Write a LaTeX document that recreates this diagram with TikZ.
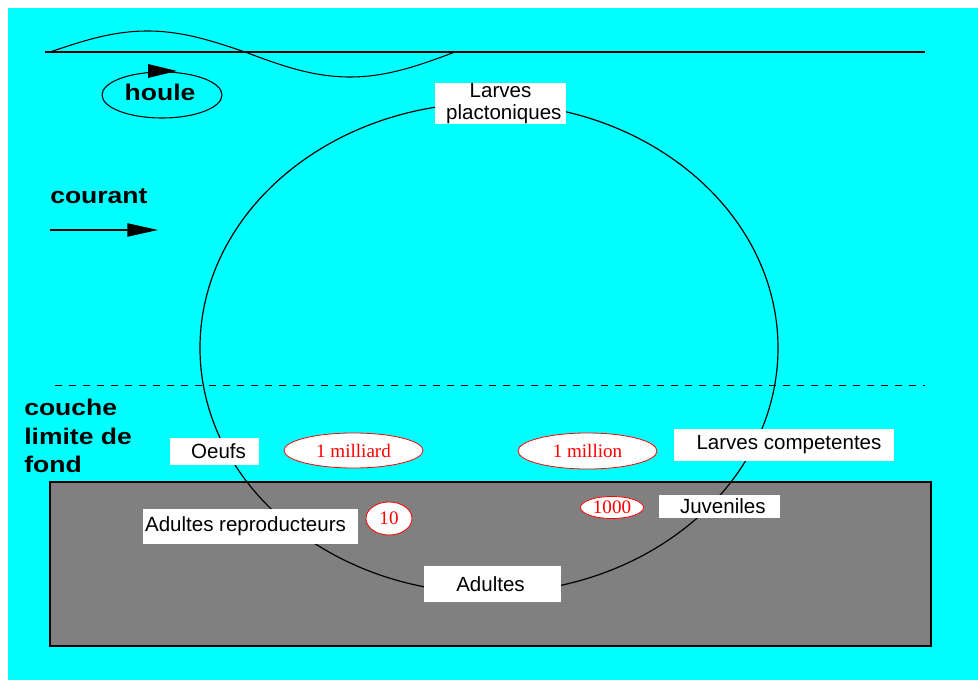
\documentclass[tikz,border=0pt]{standalone}
\usepackage{fontspec}
\setmainfont{Liberation Sans}
\newfontfamily\timesf{Liberation Serif}
\usetikzlibrary{shapes.geometric,arrows.meta}
\newcommand\wideb[1]{\scalebox{1.17}[1]{#1}}
\definecolor{sea}{RGB}{0,255,255}
\definecolor{ground}{RGB}{128,128,128}
\begin{document}
\begin{tikzpicture}[x=0.75pt,y=-0.75pt,
  lbl/.style={fill=white, inner sep=0pt, font=\fontsize{15.4}{16.7}\selectfont, align=center},
  num/.style={ellipse, draw=red, fill=white, text=red, inner sep=0pt, line width=0.6pt, font=\timesf\fontsize{14.3}{16}\selectfont},
  boldtxt/.style={font=\bfseries\fontsize{17}{19}\selectfont, inner sep=0pt},
  thin/.style={line width=0.8pt}]
\useasboundingbox (0,0) rectangle (978,680);
\fill[white] (0,0) rectangle (978,680);
\fill[sea] (8,8) rectangle (978,680);
% sea floor
\draw[fill=ground, line width=0.8pt] (50,482) rectangle (931,646);
% surface and wave
\draw[thin] (45,52) -- (925,52);
\draw[thin] plot[domain=0:180, samples=40] ({50+\x/180*195},{52-21*sin(\x)})
  -- plot[domain=180:360, samples=40] ({245+(\x-180)/180*210},{52-25*sin(\x)});
% boundary layer
\draw[line width=0.7pt, dash pattern=on 5.25pt off 5.25pt] (55,385) -- (925,385);
% life cycle
\draw[line width=0.9pt] (489,348) ellipse [x radius=289, y radius=245];
% houle
\draw[thin] (162,95) ellipse [x radius=60, y radius=23];
\fill (148,64) -- (177,71) -- (148,78) -- cycle;
\node[boldtxt, anchor=base] (houle) at (160,101) {\wideb{houle}};
% courant
\node[boldtxt, anchor=base west] (courant) at (50,204) {\wideb{courant}};
\coordinate (c0) at (50,230);
\coordinate (c1) at (158,230);
\draw[thin, -{Triangle[length=23pt,width=10pt]}] (c0) -- (c1);
% couche limite de fond
\node[boldtxt, anchor=base west] (cl1) at (24,416) {\wideb{couche}};
\node[boldtxt, anchor=base west] (cl2) at (24,445) {\wideb{limite de}};
\node[boldtxt, anchor=base west] (cl3) at (24,473) {\wideb{fond}};
% stage labels
\node[lbl, minimum width=98.25pt, minimum height=30.75pt] (plac) at (500.5,103.5) {Larves\\\hspace*{5pt}plactoniques};
\node[lbl, minimum width=66.75pt, minimum height=20.25pt] (oeufs) at (214.5,451.5) {\hspace*{6pt}Oeufs};
\node[lbl, minimum width=161.25pt, minimum height=26.25pt] (adrep) at (250.5,526.5) {Adultes reproducteurs\hspace*{7.5pt}};
\node[lbl, minimum width=102.75pt, minimum height=27pt] (adultes) at (492.5,584) {Adultes\hspace*{3pt}};
\node[lbl, minimum width=165pt, minimum height=24pt] (comp) at (784,445) {\hspace*{7.5pt}Larves competentes};
\node[lbl, minimum width=90.75pt, minimum height=17.25pt] (juv) at (719.5,506.5) {\hspace*{5pt}Juveniles};
% numbers
\node[num, minimum width=104.25pt, minimum height=26.25pt] (n1) at (353.5,450.5) {1 milliard};
\node[num, minimum width=104.25pt, minimum height=27pt] (n2) at (587.5,451) {1 million};
\node[num, minimum width=34.5pt, minimum height=24.75pt] (n3) at (389,518.5) {10};
\node[num, minimum width=47.25pt, minimum height=16.5pt] (n4) at (612,507.5) {1000};
\end{tikzpicture}
\end{document}
